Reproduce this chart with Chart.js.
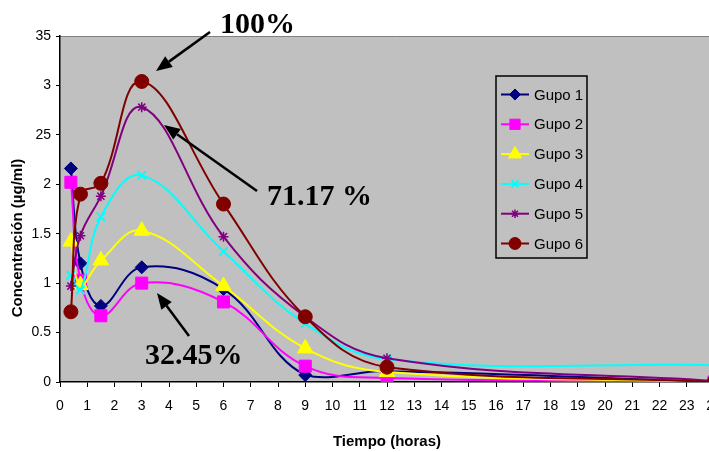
<!DOCTYPE html>
<html>
<head>
<meta charset="utf-8">
<script src="https://cdn.jsdelivr.net/npm/chart.js@4.4.1/dist/chart.umd.min.js"></script>
<style>
html, body { margin: 0; padding: 0; background: #fff; overflow: hidden; }
#wrap { width: 709px; height: 452px; overflow: hidden; }
canvas { display: block; }
</style>
</head>
<body>
<div id="wrap"><canvas id="chart" width="730" height="452"></canvas></div>
<script>
// Tiempos de muestreo (horas) y concentraciones (µg/ml) por grupo
const tiempos = [0.4, 0.75, 1.5, 3, 6, 9, 12, 24];
const grupo1 = [2.16, 1.20, 0.77, 1.16, 0.94, 0.07, 0.11, 0.00];
const grupo2 = [2.02, 1.03, 0.67, 1.00, 0.81, 0.16, 0.04, 0.00];
const grupo3 = [1.42, 0.98, 1.23, 1.53, 0.97, 0.34, 0.10, 0.00];
const grupo4 = [1.08, 0.93, 1.67, 2.09, 1.32, 0.59, 0.23, 0.17];
const grupo5 = [0.97, 1.48, 1.88, 2.78, 1.47, 0.66, 0.24, 0.01];
const grupo6 = [0.71, 1.90, 2.01, 3.04, 1.80, 0.66, 0.15, 0.00];
const nombres = ['Gupo 1', 'Gupo 2', 'Gupo 3', 'Gupo 4', 'Gupo 5', 'Gupo 6'];
const yTickLabels = ['0', '0.5', '1', '1.5', '2', '25', '3', '35'];
const xTickLabels = ['0','1','2','3','4','5','6','7','8','9','10','11','12',
  '13','14','15','16','17','18','19','20','21','22','23','24'];

const colores = ['#000080', '#FF00FF', '#FFFF00', '#00FFFF', '#800080', '#800000'];
const marcadores = [
  { style: 'rectRot', r: 6.5, bw: 1 },
  { style: 'rect', r: 8.5, bw: 1 },
  { style: 'triangle', r: 9, bw: 1 },
  { style: 'crossRot', r: 6, bw: 2 },
  { style: 'star', r: 5, bw: 1.5 },
  { style: 'circle', r: 7, bw: 1 }
];

const series = [grupo1, grupo2, grupo3, grupo4, grupo5, grupo6];
const datasets = series.map((vals, i) => ({
  label: nombres[i],
  data: vals.map((v, k) => ({ x: tiempos[k], y: v })),
  borderColor: colores[i],
  backgroundColor: colores[i],
  borderWidth: 2,
  pointStyle: marcadores[i].style,
  pointRadius: marcadores[i].r,
  pointBorderWidth: marcadores[i].bw,
  pointBackgroundColor: colores[i],
  pointBorderColor: colores[i],
  tension: 0.4,
  order: series.length - i
}));

Chart.defaults.font.family = "'Liberation Sans', Arial, sans-serif";
Chart.defaults.color = '#000';

const fondo = {
  id: 'fondo',
  beforeDraw(chart) {
    const { ctx, chartArea: a } = chart;
    ctx.save();
    ctx.fillStyle = '#C0C0C0';
    ctx.fillRect(a.left, a.top, a.right - a.left + 20, a.bottom - a.top);
    ctx.strokeStyle = '#808080';
    ctx.lineWidth = 1;
    ctx.beginPath();
    ctx.moveTo(a.left, a.top + 0.5);
    ctx.lineTo(a.right + 20, a.top + 0.5);
    ctx.stroke();
    ctx.restore();
  }
};

function flecha(ctx, x1, y1, x2, y2) {
  const ang = Math.atan2(y2 - y1, x2 - x1);
  const largo = 16, ancho = 6.5;
  const bx = x2 - Math.cos(ang) * largo, by = y2 - Math.sin(ang) * largo;
  ctx.beginPath();
  ctx.moveTo(x1, y1);
  ctx.lineTo(bx, by);
  ctx.stroke();
  ctx.beginPath();
  ctx.moveTo(x2, y2);
  ctx.lineTo(bx + Math.sin(ang) * ancho, by - Math.cos(ang) * ancho);
  ctx.lineTo(bx - Math.sin(ang) * ancho, by + Math.cos(ang) * ancho);
  ctx.closePath();
  ctx.fill();
}

const extras = {
  id: 'extras',
  afterDraw(chart) {
    const ctx = chart.ctx;
    const helpers = Chart.helpers;
    ctx.save();

    // titulos de ejes
    ctx.fillStyle = '#000';
    ctx.font = "bold 15px 'Liberation Sans', Arial, sans-serif";
    ctx.textAlign = 'center';
    ctx.textBaseline = 'middle';
    ctx.fillText('Tiempo (horas)', 387, 442, 112);
    ctx.save();
    ctx.translate(18, 238);
    ctx.rotate(-Math.PI / 2);
    ctx.fillText('Concentración (µg/ml)', 0, 0, 160);
    ctx.restore();

    // leyenda
    ctx.fillStyle = '#C0C0C0';
    ctx.fillRect(496, 76, 91, 182);
    ctx.strokeStyle = '#000';
    ctx.lineWidth = 1.5;
    ctx.strokeRect(496, 76, 91, 182);
    ctx.font = "15px 'Liberation Sans', Arial, sans-serif";
    ctx.textAlign = 'left';
    chart.data.datasets.forEach((ds, i) => {
      const y = 94.5 + i * 29.8;
      ctx.strokeStyle = ds.borderColor;
      ctx.lineWidth = 2;
      ctx.beginPath();
      ctx.moveTo(501, y);
      ctx.lineTo(529, y);
      ctx.stroke();
      ctx.fillStyle = ds.backgroundColor;
      ctx.lineWidth = ds.pointBorderWidth;
      helpers.drawPoint(ctx, { pointStyle: ds.pointStyle, radius: ds.pointRadius * 0.85, rotation: 0, borderWidth: ds.pointBorderWidth }, 515, y);
      ctx.fillStyle = '#000';
      ctx.fillText(ds.label, 534, y + 1, 52);
    });

    // anotaciones
    ctx.fillStyle = '#000';
    ctx.strokeStyle = '#000';
    ctx.lineWidth = 2.5;
    ctx.font = "bold 30px 'Liberation Serif', 'Times New Roman', serif";
    ctx.textBaseline = 'alphabetic';
    ctx.fillText('100%', 220, 33);
    ctx.fillText('71.17 %', 267, 205);
    ctx.fillText('32.45%', 145, 364);
    flecha(ctx, 210, 32, 156, 71);
    flecha(ctx, 257, 191, 164, 125);
    flecha(ctx, 189, 336, 157, 293);

    ctx.restore();
  }
};

const ctx = document.getElementById('chart').getContext('2d');
new Chart(ctx, {
  type: 'line',
  data: { datasets },
  options: {
    responsive: false,
    animation: false,
    layout: { padding: { left: 0, top: 36, right: 16, bottom: 0 } },
    plugins: { legend: { display: false }, tooltip: { enabled: false } },
    scales: {
      x: {
        type: 'linear',
        min: 0, max: 24,
        border: { color: '#000', width: 1.5 },
        grid: { drawOnChartArea: false, color: '#000', tickLength: 5, lineWidth: 1 },
        ticks: {
          stepSize: 1, autoSkip: false, maxRotation: 0, padding: 11,
          font: { size: 14 },
          callback: (v) => xTickLabels[v]
        },
        afterFit(s) { s.height = 70; s.paddingLeft = 0; s.paddingRight = 0; }
      },
      y: {
        min: 0, max: 3.5,
        border: { color: '#000', width: 1.5 },
        grid: { drawOnChartArea: false, color: '#000', tickLength: 4, lineWidth: 1 },
        ticks: {
          stepSize: 0.5, padding: 5,
          font: { size: 14 },
          callback: (v) => yTickLabels[Math.round(v * 2)]
        },
        afterFit(s) { s.width = 60; s.paddingTop = 0; s.paddingBottom = 0; }
      }
    }
  },
  plugins: [fondo, extras]
});
</script>
</body>
</html>
